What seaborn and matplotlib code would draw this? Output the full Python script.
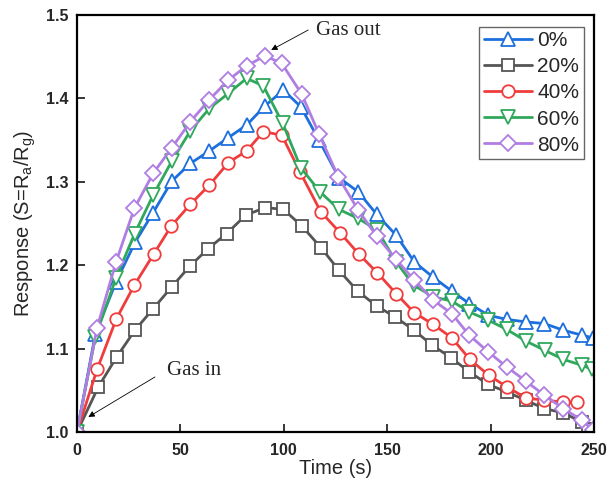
import matplotlib
matplotlib.use("Agg")
import matplotlib.pyplot as plt
import seaborn as sns
import numpy as np

# ---------------- data ----------------
t_0 = [0, 8.9, 18.9, 28.2, 36.8, 45.9, 54.8, 64, 73.2, 82, 90.9, 99.8, 108.2, 117, 126.6,
       136, 144.9, 154.3, 163.1, 172, 181.2, 189.7, 198.9, 207.8, 217.1, 226, 235.2, 244.3, 249.4]
v_0 = [1.0, 1.118, 1.180, 1.228, 1.263, 1.301, 1.322, 1.337, 1.353, 1.368, 1.391, 1.410, 1.390, 1.350, 1.305,
       1.288, 1.261, 1.236, 1.204, 1.186, 1.169, 1.154, 1.140, 1.135, 1.132, 1.130, 1.122, 1.116, 1.113]

t_20 = [0, 10.3, 19.2, 28.0, 36.9, 45.8, 54.6, 63.5, 72.4, 81.6, 90.9, 99.8, 108.7, 118, 126.6,
        135.7, 144.9, 153.8, 163, 171.8, 180.9, 189.7, 198.9, 207.8, 217.1, 226, 235.2, 244, 247]
v_20 = [1.0, 1.054, 1.090, 1.122, 1.148, 1.174, 1.199, 1.220, 1.238, 1.260, 1.269, 1.267, 1.247, 1.221, 1.194,
        1.169, 1.151, 1.138, 1.122, 1.104, 1.089, 1.072, 1.057, 1.048, 1.038, 1.028, 1.023, 1.012, 1.004]

t_40 = [0, 9.7, 18.9, 27.7, 37, 45.6, 54.8, 64, 73.2, 82, 90.1, 99, 107.8, 117.9, 127.2,
        136.4, 145.2, 154.3, 163.1, 172.3, 181.2, 190, 199.1, 208, 216.9, 226, 235.2, 241.6]
v_40 = [1.0, 1.075, 1.135, 1.176, 1.213, 1.247, 1.273, 1.296, 1.323, 1.337, 1.360, 1.356, 1.312, 1.264, 1.239,
        1.213, 1.191, 1.166, 1.143, 1.129, 1.113, 1.087, 1.068, 1.054, 1.041, 1.038, 1.036, 1.036]

t_60 = [0, 8.9, 18.9, 27.9, 36.8, 45.9, 54.8, 64, 73.2, 82, 90.1, 99.5, 108.2, 117.5, 126.6,
        136, 145.2, 154.3, 162.8, 172.3, 181.2, 189.7, 198.9, 207.8, 217.1, 226.1, 235.2, 244.2, 249.2]
v_60 = [1.0, 1.114, 1.185, 1.238, 1.284, 1.325, 1.361, 1.388, 1.406, 1.424, 1.415, 1.370, 1.317, 1.288, 1.267,
        1.256, 1.242, 1.204, 1.176, 1.162, 1.157, 1.144, 1.134, 1.123, 1.109, 1.098, 1.087, 1.080, 1.075]

t_80 = [0, 9.7, 18.9, 27.7, 36.8, 45.9, 54.8, 63.8, 73.2, 82, 90.9, 99, 108.7, 117.1, 126.3,
        136, 144.9, 154.3, 163.1, 172.3, 181.2, 189.7, 198.9, 207.8, 217.1, 226, 235.2, 244.3, 249.5]
v_80 = [1.0, 1.125, 1.204, 1.268, 1.310, 1.341, 1.372, 1.398, 1.422, 1.439, 1.451, 1.442, 1.405, 1.357, 1.306,
        1.266, 1.235, 1.207, 1.182, 1.158, 1.142, 1.116, 1.096, 1.078, 1.061, 1.044, 1.028, 1.014, 1.002]

labels = ["0%", "20%", "40%", "60%", "80%"]
colors = ["#1c6fdc", "#555555", "#f03c3c", "#2fa85c", "#b07ee2"]
markers = ["^", "s", "o", "v", "D"]
msizes = [10, 8.5, 9, 10, 8]

xticks = [0, 50, 100, 150, 200, 250]
yticks = [1.0, 1.1, 1.2, 1.3, 1.4, 1.5]

# ---------------- style ----------------
sns.set_style("ticks")
plt.rcParams["font.family"] = ["Liberation Sans", "DejaVu Sans"]
plt.rcParams["mathtext.fontset"] = "custom"
plt.rcParams["mathtext.rm"] = "Liberation Sans"
plt.rcParams["xtick.direction"] = "in"
plt.rcParams["ytick.direction"] = "in"

fig = plt.figure(figsize=(6.08, 4.95), dpi=100)
ax = fig.add_axes([77/608, 1 - 432/495, (594-77)/608, (432-15)/495])

series = [(t_0, v_0), (t_20, v_20), (t_40, v_40), (t_60, v_60), (t_80, v_80)]
for (t, v), lab, c, m, ms in zip(series, labels, colors, markers, msizes):
    sns.lineplot(x=t, y=v, ax=ax, color=c, marker=m, markersize=ms,
                 markerfacecolor="white", markeredgecolor=c, markeredgewidth=1.3,
                 linewidth=2.0, label=lab, errorbar=None, sort=False)

ax.set_xlim(0, 250)
ax.set_ylim(1.0, 1.5)
ax.set_xticks(xticks)
ax.set_yticks(yticks)
ax.set_yticklabels([f"{y:.1f}" for y in yticks])
for lbl in ax.get_xticklabels() + ax.get_yticklabels():
    lbl.set_fontweight("bold")
    lbl.set_fontsize(11.5)
ax.tick_params(axis="both", length=6, width=1.3, top=False, right=False)
ax.tick_params(axis="x", pad=8)
ax.tick_params(axis="y", pad=6)
for s in ax.spines.values():
    s.set_visible(True)
    s.set_linewidth(1.6)
    s.set_color("black")

ax.set_xlabel("Time (s)", fontsize=14.5, labelpad=1)
ax.set_ylabel("Response (S=R$_\\mathregular{a}$/R$_\\mathregular{g}$)", fontsize=14.5, labelpad=6)

# annotations
serif = ["Liberation Serif", "DejaVu Serif"]
ax.text(115.5, 1.482, "Gas out", fontsize=15, family=serif, va="center", ha="left")
ax.annotate("", xy=(93.9, 1.458), xytext=(111.8, 1.482),
            arrowprops=dict(arrowstyle="-|>", color="black", lw=0.6, mutation_scale=9,
                            shrinkA=0, shrinkB=0))
ax.text(43.4, 1.074, "Gas in", fontsize=15, family=serif, va="center", ha="left")
ax.annotate("", xy=(5.5, 1.018), xytext=(37.7, 1.066),
            arrowprops=dict(arrowstyle="-|>", color="black", lw=0.6, mutation_scale=9,
                            shrinkA=0, shrinkB=0))

leg = ax.legend(loc="upper right", bbox_to_anchor=(0.98, 0.972), borderaxespad=0,
                fontsize=15, frameon=True, fancybox=False, edgecolor="#666666",
                framealpha=1, handlelength=2.3, handletextpad=0.25, labelspacing=0.34,
                borderpad=0.22)
leg.get_frame().set_linewidth(1.0)

fig.savefig("out.png", dpi=100)
